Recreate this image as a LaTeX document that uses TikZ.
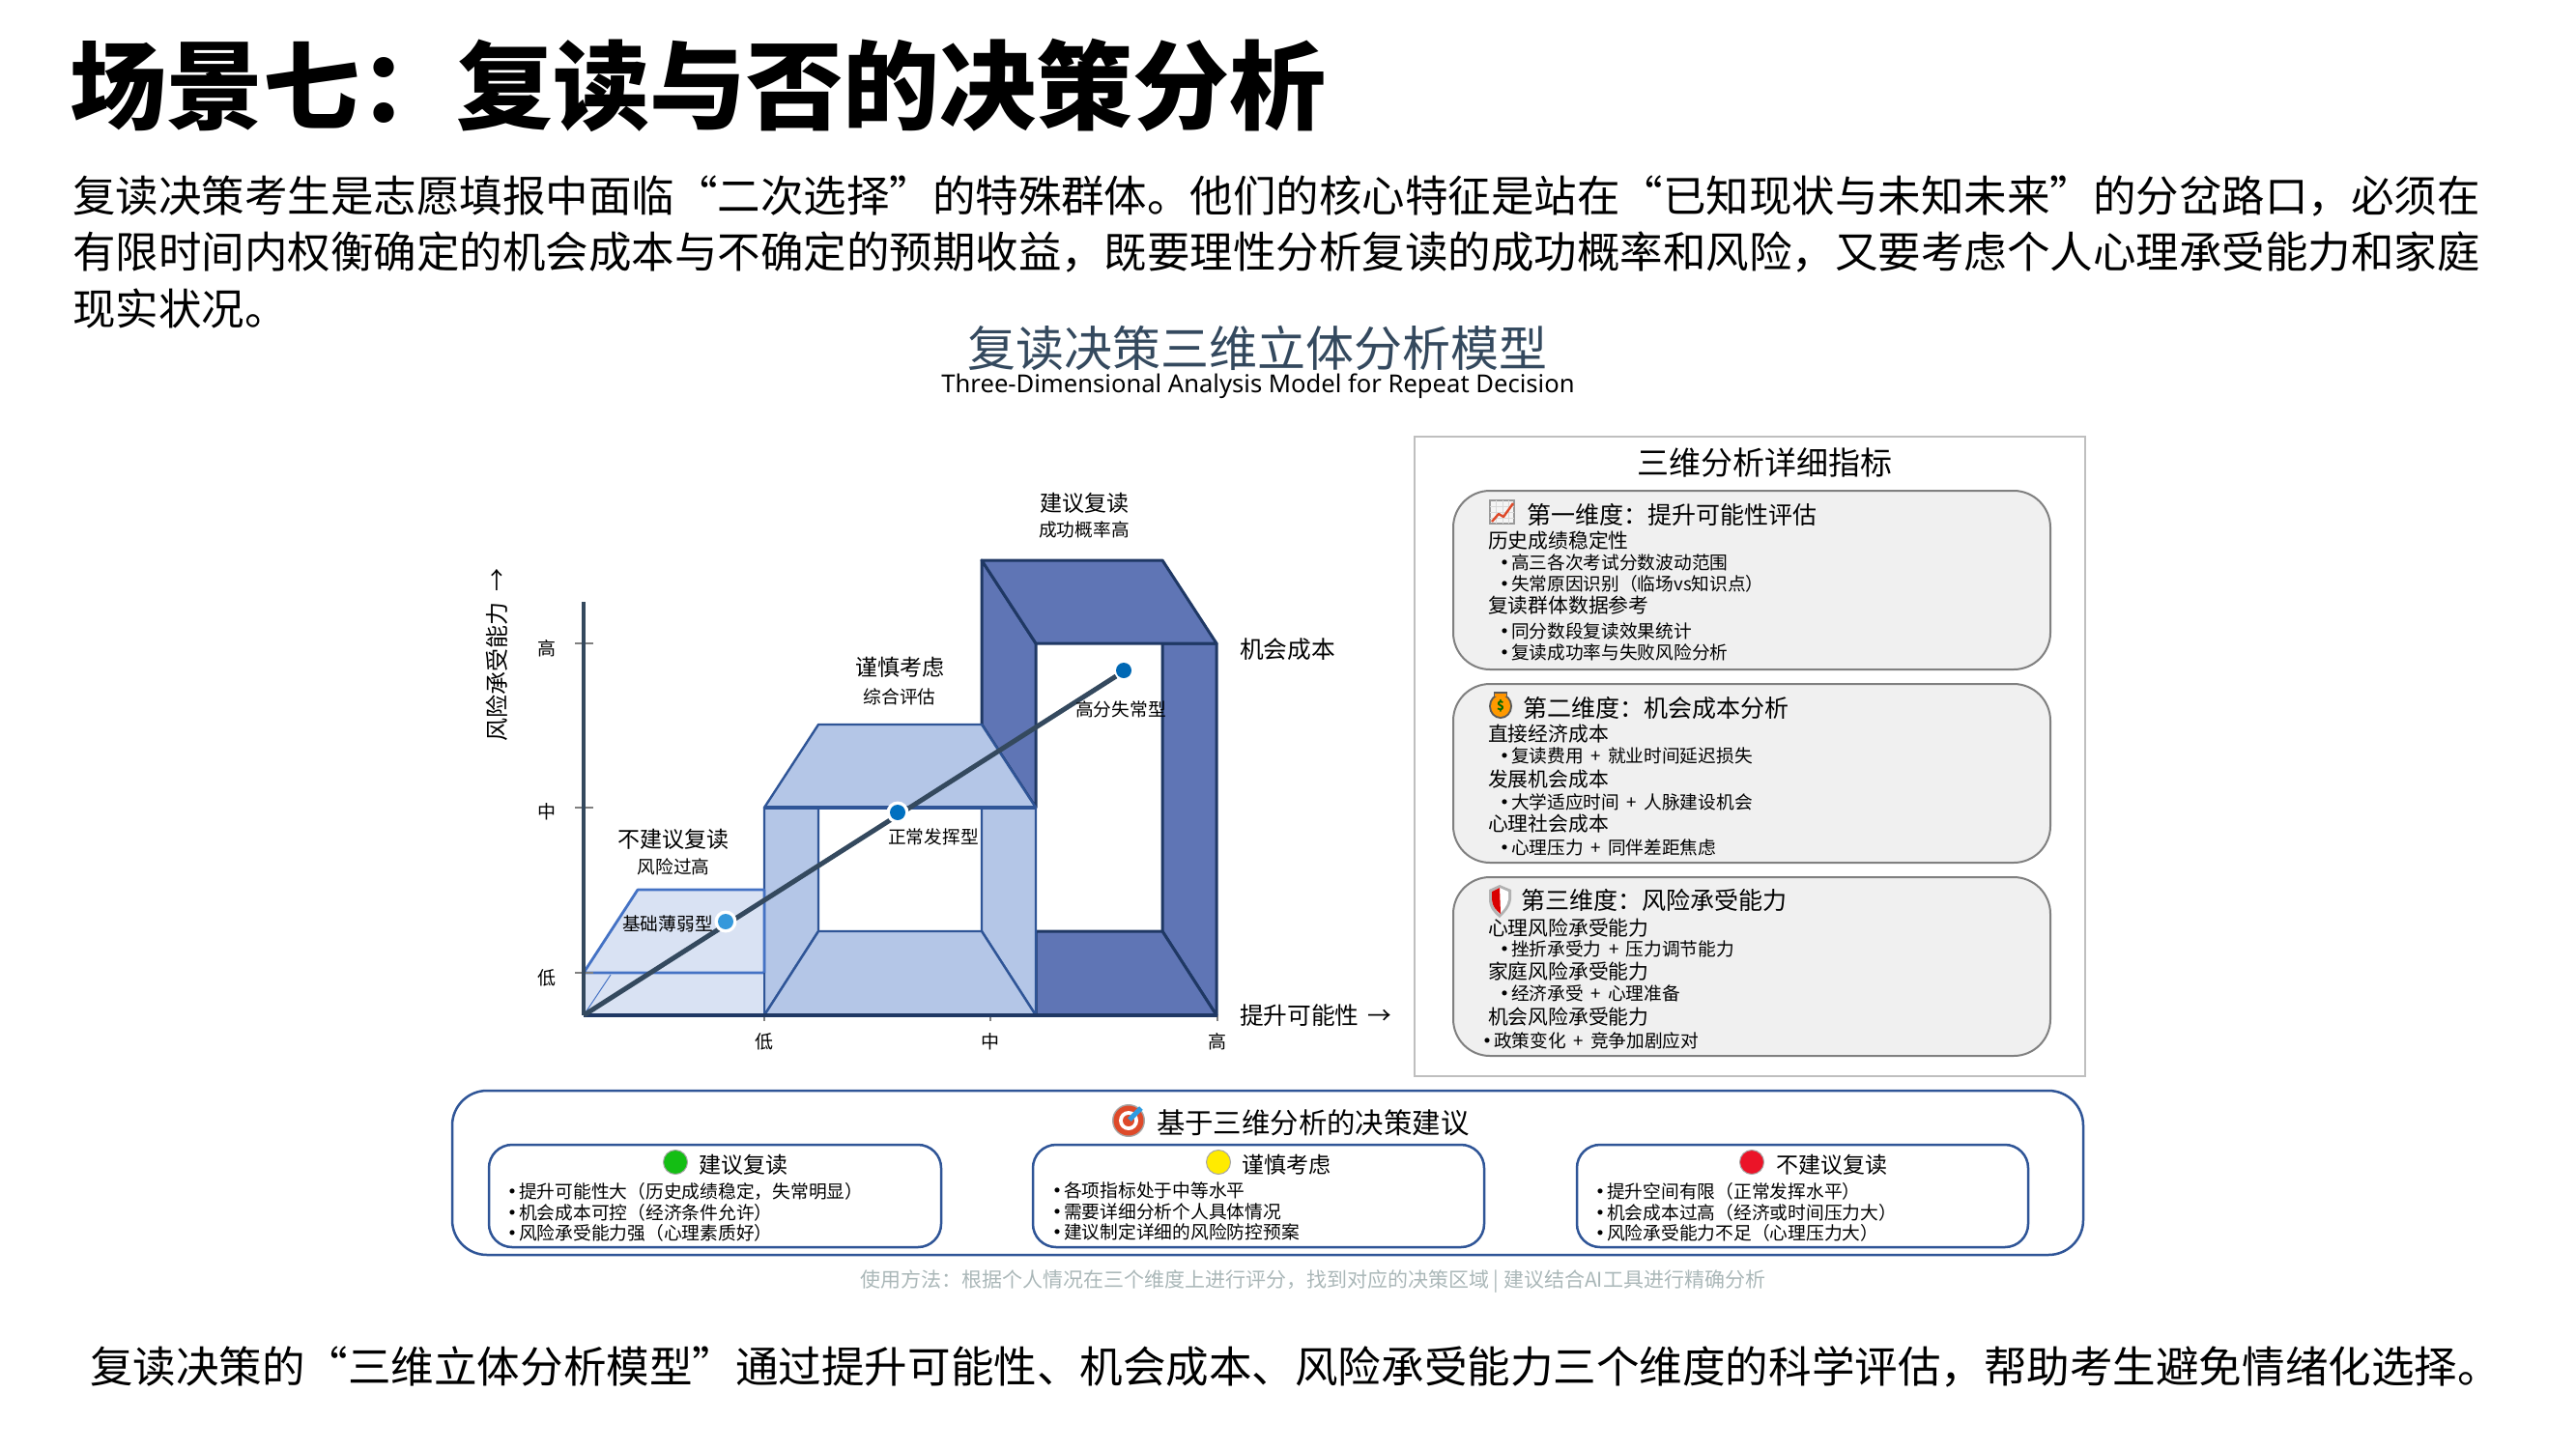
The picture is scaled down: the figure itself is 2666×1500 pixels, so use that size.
\documentclass[tikz,border=0pt]{standalone}
\usepackage{fontspec}
\setmainfont{Noto Sans CJK SC}
\newfontfamily\latinsub{Noto Sans}
\newcommand{\fs}[1]{\fontsize{#1}{#1}\selectfont}
\newcommand{\bl}{\llap{\raisebox{-2pt}{\fs{24}•}\hspace{-5.4pt}}}
\newcommand{\pl}{\hspace{7.5pt}+\hspace{7.5pt}}
\newcommand{\fcolon}{\symbol{"FF1A}}
\newcommand{\fcomma}{\symbol{"FF0C}}
\newcommand{\flp}{\symbol{"FF08}}
\newcommand{\frp}{\symbol{"FF09}}
\definecolor{lowfill}{HTML}{D9E2F3}\definecolor{lowline}{HTML}{4472C4}
\definecolor{midfill}{HTML}{B4C6E7}\definecolor{midline}{HTML}{2F5597}
\definecolor{highfill}{HTML}{5F75B5}\definecolor{highline}{HTML}{1F3864}
\definecolor{axisc}{HTML}{34495E}\definecolor{cardfill}{HTML}{F0F0F0}
\definecolor{dota}{HTML}{3498DB}\definecolor{dotb}{HTML}{0070C0}\definecolor{dotc}{HTML}{0068B4}
\definecolor{lampg}{HTML}{14BE14}\definecolor{lampy}{HTML}{FFEB00}\definecolor{lampr}{HTML}{EB1428}
\definecolor{footc}{HTML}{AAB7B8}\definecolor{targetc}{HTML}{DE4A2A}\definecolor{arrowc}{HTML}{2E9BE0}
\tikzset{
 txt/.style={inner sep=0pt,outer sep=0pt,text=black},
 lft/.style={txt,anchor=west},
 bodyline/.style={lft,font=\fs{44.5}},
 chartmain/.style={txt,font=\fs{23}},
 chartsub/.style={txt,font=\fs{18.7}},
 axislab/.style={lft,font=\fs{24.7}},
 tick/.style={txt,font=\fs{19}},
 cardhead/.style={lft,font=\fs{25}},
 cardsec/.style={lft,font=\fs{20.8}},
 carditem/.style={lft,font=\fs{18.7}},
 recitem/.style={lft,font=\fs{18.75}},
 rechead/.style={lft,font=\fs{23}},
 card/.style={draw=gray,line width=2pt,fill=cardfill,rounded corners=38pt},
 recbox/.style={draw=midline,line width=2.5pt,fill=white,rounded corners=24pt},
 lowst/.style={fill=lowfill,draw=lowline,line width=2pt,line join=round},
 midst/.style={fill=midfill,draw=midline,line width=2.4pt,line join=round},
 highst/.style={fill=highfill,draw=highline,line width=3pt,line join=round},
 dot/.style={circle,inner sep=0pt,minimum size=16pt},
 lamp/.style={circle,inner sep=0pt,minimum size=25pt,draw=black!35,line width=1pt},
}
\begin{document}
\begin{tikzpicture}[x=1pt,y=-1pt]
\useasboundingbox (0,0) rectangle (2666,1500);
% heading and text
\node[lft,font=\fs{100}\bfseries] (title) at (72,88) {场景七\fcolon 复读与否的决策分析};
\node[bodyline] (b1) at (75,203) {复读决策考生是志愿填报中面临“二次选择”的特殊群体。他们的核心特征是站在“已知现状与未知未来”的分岔路口\fcomma 必须在};
\node[bodyline] (b2) at (75,261) {有限时间内权衡确定的机会成本与不确定的预期收益\fcomma 既要理性分析复读的成功概率和风险\fcomma 又要考虑个人心理承受能力和家庭};
\node[bodyline] (b3) at (75,319) {现实状况。};
\node[txt,font=\fs{50},text=axisc] (t2) at (1301,360) {复读决策三维立体分析模型};
\node[txt,font=\latinsub\fs{25.6}] (t3) at (1302,400) {Three-Dimensional Analysis Model for Repeat Decision};
% high block
\fill[white] (1016,580) rectangle (1259,1051);
\draw[highst] (1016,580) -- (1072,666) -- (1072,836) -- (1016,750) -- cycle;
\draw[highst] (1203,666) -- (1259,666) -- (1259,1051) -- (1203,964) -- cycle;
\draw[highst] (1072,964) -- (1203,964) -- (1259,1051) -- (1072,1051) -- cycle;
\draw[highst] (1016,580) -- (1203,580) -- (1259,666) -- (1072,666) -- cycle;
% medium block
\fill[white] (847,836) rectangle (1016,964);
\draw[midst] (791,836) -- (847,836) -- (847,964) -- (791,1051) -- cycle;
\draw[midst] (1016,836) -- (1072,836) -- (1072,1051) -- (1016,964) -- cycle;
\draw[midst] (847,964) -- (1016,964) -- (1072,1051) -- (791,1051) -- cycle;
\draw[midst] (847,750) -- (1016,750) -- (1072,836) -- (791,836) -- cycle;
\draw[midline,line width=3.2pt] (791,836) -- (1072,836);
% low block
\fill[lowfill] (604,1007) rectangle (791,1051);
\draw[lowst,line width=2.8pt] (604,1007) -- (660,921) -- (791,921) -- (791,1007) -- cycle;
\draw[lowline,line width=1pt] (604,1051) -- (632,1009);
\draw[lowline,line width=1pt] (604,1007) -- (604,1051);
\draw[midline,line width=1.2pt] (791,1007) -- (791,1051);
% axes
\coordinate (orig) at (604,1051);
\coordinate (ytop) at (604,623);
\coordinate (xend) at (1260,1051);
\draw[gray,line width=1.5pt] (595,666) -- (614,666) (595,836) -- (614,836) (595,1007) -- (614,1007);
\draw[gray,line width=1.5pt] (791,1051) -- (791,1057) (1025,1051) -- (1025,1057) (1260,1051) -- (1260,1057);
\draw[axisc,line width=3.5pt] (ytop) -- (orig);
\draw[highline,line width=3.5pt] (orig) -- (xend);
% dots and diagonal
\coordinate (dend) at (1155,700);
\draw[axisc,line width=5pt] (orig) -- (dend);
\node[dot,fill=white,minimum size=23pt] (h1) at (751,954) {};
\node[dot,fill=white,minimum size=23pt] (h2) at (929,841) {};
\node[dot,fill=dota] (d1) at (751,954) {};
\node[dot,fill=dotb] (d2) at (929,841) {};
\node[dot,fill=dotc] (d3) at (1163,694) {};
% chart labels
\node[chartmain] (l1) at (1122,521) {建议复读};
\node[chartsub] (l2) at (1122,548) {成功概率高};
\node[chartmain] (l3) at (931,691) {谨慎考虑};
\node[chartsub] (l4) at (931,721) {综合评估};
\node[chartmain] (l5) at (697,869) {不建议复读};
\node[chartsub] (l6) at (697,897) {风险过高};
\node[chartsub] (l7) at (691,956) {基础薄弱型};
\node[chartsub] (l8) at (966,866) {正常发挥型};
\node[chartsub] (l9) at (1160,734) {高分失常型};
\node[axislab] (a1) at (1283,672) {机会成本};
\node[axislab] (a2) at (1283,1051) {提升可能性 \hspace{3pt}→};
\node[txt,font=\fs{24},rotate=90] (a3) at (514,678) {风险承受能力 \hspace{5pt}→};
\node[tick] (t1y) at (566,671) {高};
\node[tick] (t2y) at (566,840) {中};
\node[tick] (t3y) at (566,1012) {低};
\node[tick] (t1x) at (791,1078) {低};
\node[tick] (t2x) at (1025,1078) {中};
\node[tick] (t3x) at (1260,1078) {高};
% right panel
\draw[black!25,line width=2pt] (1464,452) rectangle (2158,1114);
\node[txt,font=\fs{33}] (ph) at (1826,479) {三维分析详细指标};
\draw[card] (1504,508) rectangle (2122,693);
\draw[card] (1504,708) rectangle (2122,893);
\draw[card] (1504,908) rectangle (2122,1093);
% icon chart
\draw[gray!80,fill=gray!8,line width=2.5pt] (1542,518) rectangle (1567,542);
\draw[gray!30,line width=.6pt] (1548,518) -- (1548,542) (1555,518) -- (1555,542) (1561,518) -- (1561,542) (1542,524) -- (1567,524) (1542,530) -- (1567,530) (1542,536) -- (1567,536);
\draw[targetc,line width=2.4pt,line join=round] (1544,540) -- (1551,532) -- (1556,535) -- (1566,521);
% icon bag
\fill[black!65] (1553,731) circle[x radius=12pt,y radius=13pt];
\fill[black!65] (1546,716) rectangle (1560,722);
\fill[orange!80!yellow] (1553,731) circle[x radius=10pt,y radius=11pt];
\fill[orange!85!yellow] (1547,718) rectangle (1559,721);
\node[txt,font=\fs{13}\bfseries,text=green!40!black] (bagd) at (1553,731) {\$};
% icon shield
\fill[gray!60] (1541,921) -- (1552,916) -- (1564,921) -- (1564,931) .. controls (1563,940) and (1556,946) .. (1552,950) .. controls (1547,946) and (1541,940) .. (1541,931) -- cycle;
\fill[white] (1544,923) -- (1552,919) -- (1561,923) -- (1561,931) .. controls (1560,938) and (1555,943) .. (1552,946) .. controls (1549,943) and (1544,938) .. (1544,931) -- cycle;
\fill[red!85!black] (1544,923) -- (1552,919) -- (1553,946) .. controls (1549,943) and (1544,938) .. (1544,931) -- cycle;
% card 1
\node[cardhead] (c1h) at (1580,533) {第一维度\fcolon 提升可能性评估};
\node[cardsec] (c11) at (1540,560) {历史成绩稳定性};
\node[carditem] (c12) at (1564,583) {\bl 高三各次考试分数波动范围};
\node[carditem] (c13) at (1564,604) {\bl 失常原因识别\flp 临场vs知识点\frp};
\node[cardsec] (c14) at (1540,627) {复读群体数据参考};
\node[carditem] (c15) at (1564,654) {\bl 同分数段复读效果统计};
\node[carditem] (c16) at (1564,676) {\bl 复读成功率与失败风险分析};
% card 2
\node[cardhead] (c2h) at (1576,733) {第二维度\fcolon 机会成本分析};
\node[cardsec] (c21) at (1540,760) {直接经济成本};
\node[carditem] (c22) at (1564,783) {\bl 复读费用\pl 就业时间延迟损失};
\node[cardsec] (c23) at (1540,807) {发展机会成本};
\node[carditem] (c24) at (1564,831) {\bl 大学适应时间\pl 人脉建设机会};
\node[cardsec] (c25) at (1540,853) {心理社会成本};
\node[carditem] (c26) at (1564,878) {\bl 心理压力\pl 同伴差距焦虑};
% card 3
\node[cardhead] (c3h) at (1574,932) {第三维度\fcolon 风险承受能力};
\node[cardsec] (c31) at (1540,961) {心理风险承受能力};
\node[carditem] (c32) at (1564,983) {\bl 挫折承受力\pl 压力调节能力};
\node[cardsec] (c33) at (1540,1006) {家庭风险承受能力};
\node[carditem] (c34) at (1564,1029) {\bl 经济承受\pl 心理准备};
\node[cardsec] (c35) at (1540,1053) {机会风险承受能力};
\node[carditem] (c36) at (1546,1078) {\bl 政策变化\pl 竞争加剧应对};
% recommendation panel
\draw[midline,line width=2.5pt,rounded corners=36pt] (468,1129) rectangle (2156,1299);
\fill[gray!70] (1168,1160) circle[radius=17pt];
\fill[targetc] (1168,1160) circle[radius=15.5pt];
\fill[white] (1168,1160) circle[radius=10pt];
\fill[targetc] (1168,1160) circle[radius=6pt];
\draw[arrowc,line width=5pt] (1169,1159) -- (1181,1147);
\node[lft,font=\fs{29.4}] (rt) at (1197,1162) {基于三维分析的决策建议};
\draw[recbox] (506,1185) rectangle (974,1291);
\draw[recbox] (1069,1185) rectangle (1536,1291);
\draw[recbox] (1632,1185) rectangle (2099,1291);
\node[lamp,fill=lampg] (g) at (699,1203) {};
\node[lamp,fill=lampy] (y) at (1261,1203) {};
\node[lamp,fill=lampr] (r) at (1813,1203) {};
\node[rechead] (rh1) at (723,1206) {建议复读};
\node[rechead] (rh2) at (1285,1206) {谨慎考虑};
\node[rechead] (rh3) at (1838,1206) {不建议复读};
\node[recitem] (r11) at (537,1233) {\bl 提升可能性大\flp 历史成绩稳定\fcomma 失常明显\frp};
\node[recitem] (r12) at (537,1255) {\bl 机会成本可控\flp 经济条件允许\frp};
\node[recitem] (r13) at (537,1276) {\bl 风险承受能力强\flp 心理素质好\frp};
\node[recitem] (r21) at (1101,1233) {\bl 各项指标处于中等水平};
\node[recitem] (r22) at (1101,1255) {\bl 需要详细分析个人具体情况};
\node[recitem] (r23) at (1101,1276) {\bl 建议制定详细的风险防控预案};
\node[recitem] (r31) at (1663,1233) {\bl 提升空间有限\flp 正常发挥水平\frp};
\node[recitem] (r32) at (1663,1255) {\bl 机会成本过高\flp 经济或时间压力大\frp};
\node[recitem] (r33) at (1663,1276) {\bl 风险承受能力不足\flp 心理压力大\frp};
\node[lft,font=\fs{21},text=footc] (foot) at (890,1327) {使用方法\fcolon 根据个人情况在三个维度上进行评分\fcomma 找到对应的决策区域 | 建议结合AI工具进行精确分析};
\node[lft,font=\fs{44.55}] (sum) at (93,1415) {复读决策的“三维立体分析模型”通过提升可能性、机会成本、风险承受能力三个维度的科学评估\fcomma 帮助考生避免情绪化选择。};
\end{tikzpicture}
\end{document}
